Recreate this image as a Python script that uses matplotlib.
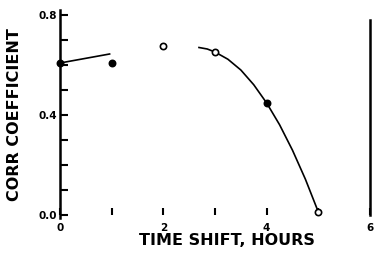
import numpy as np
import matplotlib
matplotlib.use("Agg")
import matplotlib.pyplot as plt

# data
shift_hours = [0, 1, 2, 3, 4, 5]
corr = [0.608, 0.608, 0.676, 0.652, 0.448, 0.012]
filled = [True, True, False, False, True, False]

# hand-drawn fit lines
seg1_x = [0.0, 0.96]
seg1_y = [0.608, 0.644]
seg2_x = [2.69, 2.85, 3.0, 3.25, 3.5, 3.75, 4.0, 4.25, 4.5, 4.75, 5.0]
seg2_y = [0.670, 0.664, 0.652, 0.623, 0.580, 0.521, 0.448, 0.361, 0.259, 0.143, 0.012]

xtick_labels = {0: "0", 2: "2", 4: "4", 6: "6"}

plt.rcParams['font.family'] = 'DejaVu Sans'
plt.rcParams['font.weight'] = 'bold'

fig = plt.figure(figsize=(3.75, 2.57), dpi=100)
ax = fig.add_axes([60 / 375, 42 / 257, 310 / 375, 200 / 257])

ax.plot(seg1_x, seg1_y, color="black", lw=1.2)
ax.plot(seg2_x, seg2_y, color="black", lw=1.2)
for x, y, f in zip(shift_hours, corr, filled):
    ax.plot(x, y, "o", ms=4.5, mec="black", mew=1.2,
            mfc="black" if f else "white", clip_on=False)

ax.set_xlim(0, 6)
ax.set_ylim(0, 0.8)

ax.spines["top"].set_visible(False)
ax.spines["bottom"].set_visible(False)
ax.spines["left"].set_linewidth(1.8)
ax.spines["left"].set_bounds(-0.01, 0.82)
ax.spines["right"].set_linewidth(1.8)
ax.spines["right"].set_bounds(0.0, 0.78)

ax.set_yticks(np.arange(0, 0.81, 0.1))
ax.set_yticklabels(["0.0", "", "", "", "0.4", "", "", "", "0.8"], fontsize=7.5)
ax.tick_params(axis="y", direction="in", length=6, width=1.5, pad=2)
ax.tick_params(axis="y", right=False)

ax.set_xticks(range(0, 7))
ax.set_xticklabels([xtick_labels.get(i, "") for i in range(7)], fontsize=7.5)
ax.tick_params(axis="x", direction="in", length=5, width=1.5, pad=6)

ax.set_xlabel("TIME SHIFT, HOURS", fontsize=11.5, fontweight="bold")
ax.xaxis.set_label_coords(0.54, -0.09)
ax.set_ylabel("CORR COEFFICIENT", fontsize=11.5, fontweight="bold", labelpad=12)

fig.savefig("out.png", dpi=100)
